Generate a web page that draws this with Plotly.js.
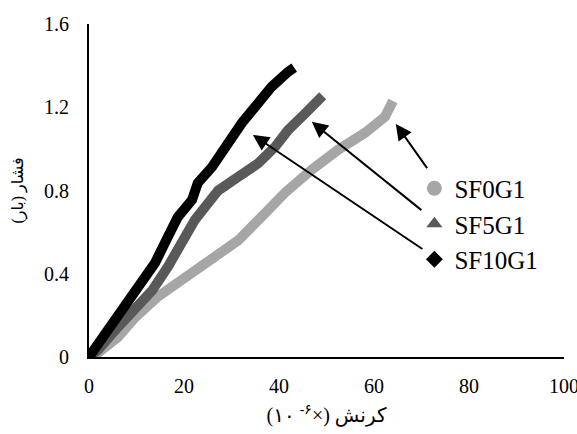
<!DOCTYPE html>
<html>
<head>
<meta charset="utf-8">
<script src="https://cdn.plot.ly/plotly-3.0.1.min.js"></script>
<style>html,body{margin:0;padding:0;background:#fff;}#chart{width:577px;height:434px;}</style>
</head>
<body>
<div id="chart"></div>
<script>
// Series data (strain ×10^-6, pressure bar)
const seriesNames = ["SF0G1", "SF5G1", "SF10G1"];

const sf0x = [0, 1.9, 6.1, 9.7, 14.5, 20.2, 25.9, 31.4, 37.0, 41.3, 46.9, 52.4, 58.1, 62.3, 64.0];
const sf0y = [0, 0.02, 0.096, 0.19, 0.29, 0.385, 0.466, 0.56, 0.69, 0.79, 0.90, 0.995, 1.077, 1.154, 1.23];

const sf5x = [0, 1.9, 6.1, 9.7, 13.3, 16.6, 19.6, 22.3, 25.1, 27.2, 31.4, 35.6, 39.2, 41.9, 45.5, 48.2, 49.2];
const sf5y = [0, 0.034, 0.144, 0.24, 0.32, 0.433, 0.548, 0.659, 0.74, 0.80, 0.865, 0.93, 1.01, 1.09, 1.17, 1.235, 1.255];

const sf10x = [0, 0.6, 3.4, 6.9, 10.3, 13.9, 16.6, 18.7, 21.7, 22.9, 25.9, 29.3, 32.2, 34.9, 38.5, 41.9, 43.2];
const sf10y = [0, 0.02, 0.115, 0.226, 0.337, 0.452, 0.577, 0.673, 0.755, 0.836, 0.913, 1.03, 1.125, 1.20, 1.30, 1.37, 1.39];

const xTickVals = [0, 20, 40, 60, 80, 100];
const yTickVals = [0, 0.4, 0.8, 1.2, 1.6];
const yTickText = ["0", "0.4", "0.8", "1.2", "1.6"];

const xTitle = "\u200E(۱۰\u200E <sup>\u200E-۶</sup>\u200E×)\u200E کرنش";
const yTitle = "فشار (بار)";

const colors = ["#a6a6a6", "#595959", "#000000"];
const symbols = ["circle", "triangle-up", "diamond"];
const msizes = [15, 14, 13];

const xs = [sf0x, sf5x, sf10x];
const ys = [sf0y, sf5y, sf10y];

const traces = [];
for (let i = 0; i < 3; i++) {
  traces.push({
    x: xs[i], y: ys[i], type: "scatter", mode: "lines",
    line: {color: colors[i], width: 10},
    showlegend: false, hoverinfo: "skip"
  });
}
for (let i = 0; i < 3; i++) {
  traces.push({
    x: [null], y: [null], type: "scatter", mode: "markers",
    name: seriesNames[i],
    marker: {color: colors[i], symbol: symbols[i], size: msizes[i]},
    showlegend: true
  });
}

// arrows: head on series, tail at legend entry
const arrowHeadX = [64.6, 46.9, 34.5];
const arrowHeadY = [1.12, 1.13, 1.067];
const arrowTailX = [71.4, 70.3, 70.5];
const arrowTailY = [0.90, 0.70, 0.514];

const annotations = [];
for (let i = 0; i < 3; i++) {
  annotations.push({
    x: arrowHeadX[i], y: arrowHeadY[i], ax: arrowTailX[i], ay: arrowTailY[i],
    xref: "x", yref: "y", axref: "x", ayref: "y",
    text: "", showarrow: true, arrowhead: 2, arrowsize: 1.6, arrowwidth: 2,
    arrowcolor: "#000000", standoff: 0
  });
}

const fontFam = "'Liberation Serif', 'Times New Roman', 'DejaVu Sans', serif";

const layout = {
  width: 577, height: 434,
  margin: {l: 89, r: 13, t: 24, b: 77},
  paper_bgcolor: "#ffffff", plot_bgcolor: "#ffffff",
  font: {family: fontFam, color: "#000000", size: 20},
  showlegend: true,
  legend: {
    x: 0.685, y: 0.575, xanchor: "left", yanchor: "top",
    font: {family: fontFam, size: 25, color: "#000000"},
    bgcolor: "rgba(0,0,0,0)", borderwidth: 0, itemsizing: "trace"
  },
  xaxis: {
    range: [0, 100], tickvals: xTickVals, ticks: "", showgrid: false, zeroline: false,
    showline: true, linecolor: "#000000", linewidth: 2, ticklabelstandoff: 10,
    ticklabeloverflow: "allow",
    tickfont: {family: fontFam, size: 20},
    title: {text: xTitle, font: {family: fontFam, size: 20}, standoff: 12}
  },
  yaxis: {
    range: [0, 1.6], tickvals: yTickVals, ticktext: yTickText, ticks: "", showgrid: false, zeroline: false,
    showline: true, linecolor: "#000000", linewidth: 2, ticklabelstandoff: 14,
    tickfont: {family: fontFam, size: 20},
    title: {text: yTitle, font: {family: fontFam, size: 16}, standoff: 16}
  },
  annotations: annotations
};

Plotly.newPlot("chart", traces, layout, {displayModeBar: false, staticPlot: true});
</script>
</body>
</html>
